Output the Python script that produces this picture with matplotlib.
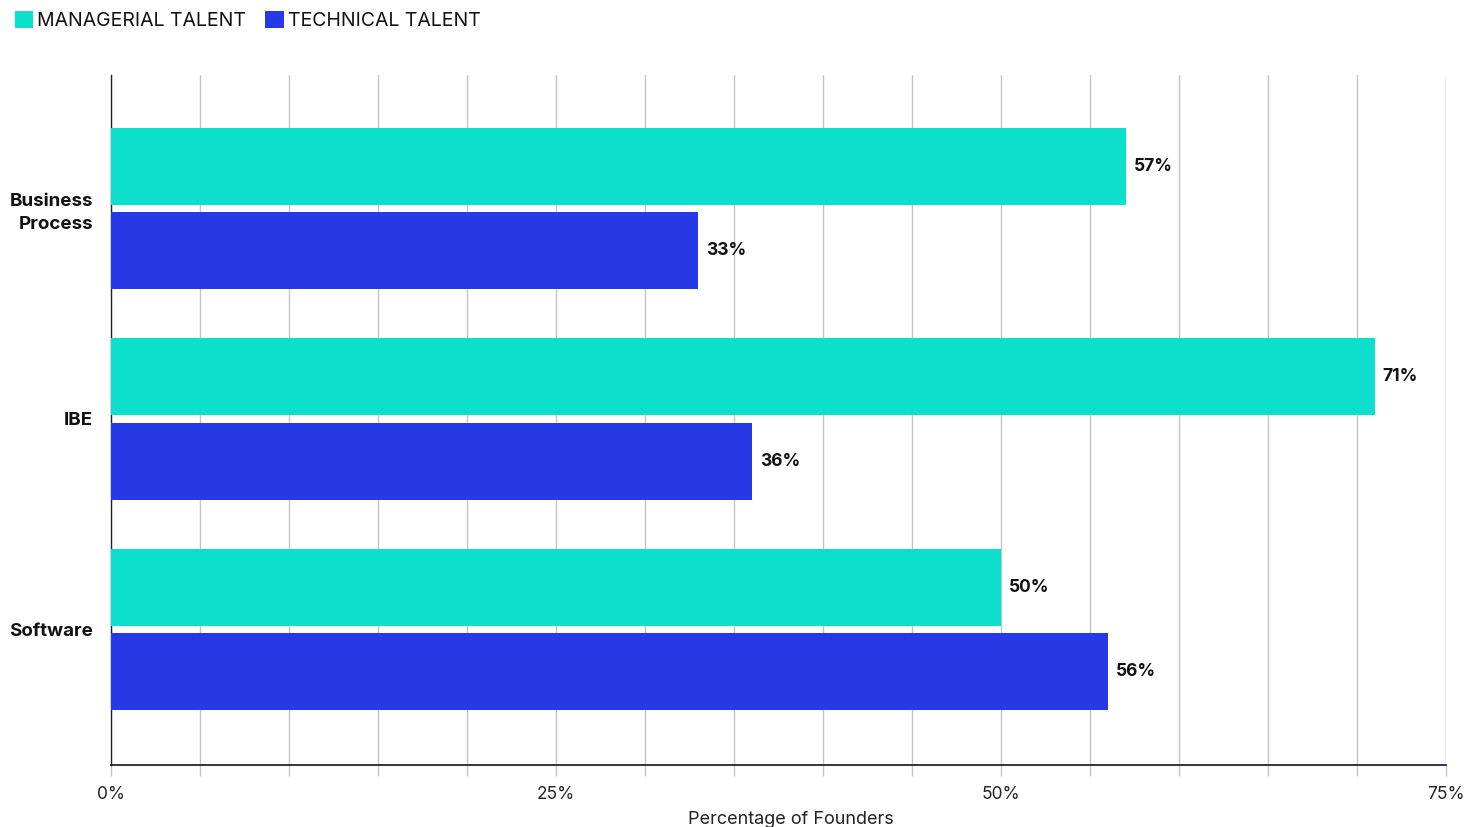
import matplotlib
matplotlib.use("Agg")
import matplotlib.pyplot as plt
from matplotlib.patches import Patch
from matplotlib.ticker import MultipleLocator, FixedLocator
import numpy as np

plt.rcParams['font.family'] = ['Inter', 'DejaVu Sans']

categories = ["Business\nProcess", "IBE", "Software"]
series_names = ["MANAGERIAL TALENT", "TECHNICAL TALENT"]
managerial = [57, 71, 50]
technical = [33, 36, 56]
colors = ["#0CE0CC", "#2639E6"]
x_ticks = [0, 25, 50, 75]

fig = plt.figure(figsize=(14.82, 8.27), dpi=100)
ax = fig.add_axes([0.0749, 0.075, 0.9008, 0.8343])

y = np.arange(len(categories))
h = 0.366
off = 0.2
bars_m = ax.barh(y - off, managerial, height=h, color=colors[0], zorder=3)
bars_t = ax.barh(y + off, technical, height=h, color=colors[1], zorder=3)

for bars, vals in ((bars_m, managerial), (bars_t, technical)):
    for b, v in zip(bars, vals):
        ax.text(v + 0.45, b.get_y() + b.get_height() / 2, f"{v}%",
                va="center", ha="left", fontsize=12.5, fontweight="bold",
                color="#111111")

ax.set_xlim(0, 75)
ax.set_ylim(2.644, -0.634)
ax.set_yticks(y)
ax.set_yticklabels(categories, fontsize=13.5, fontweight="bold", color="#111111",
                   linespacing=1.45)
ax.tick_params(axis="y", length=0, pad=13)

ax.xaxis.set_major_locator(FixedLocator(x_ticks))
ax.xaxis.set_minor_locator(MultipleLocator(5))
ax.set_xticklabels([f"{t}%" for t in x_ticks], fontsize=12.5, color="#222222")
ax.tick_params(axis="x", which="both", length=8, width=1, color="#c4c4c4", pad=7)
ax.grid(axis="x", which="both", color="#c4c4c4", linewidth=1, zorder=0)

for s in ("top", "right"):
    ax.spines[s].set_visible(False)
ax.spines["left"].set_color("#222222")
ax.spines["bottom"].set_color("#111133")
ax.spines["left"].set_linewidth(1.0)
ax.spines["bottom"].set_linewidth(1.2)

ax.set_xlabel("Percentage of Founders", fontsize=13, color="#222222")
ax.xaxis.set_label_coords(0.509, -0.066)

handles = [Patch(facecolor=c, edgecolor="none") for c in colors]
fig.legend(handles, series_names, loc="upper left", bbox_to_anchor=(-0.002, 1.008),
           ncol=2, frameon=False, fontsize=14, handlelength=0.95, handleheight=0.95,
           handletextpad=0.2, columnspacing=1.0, labelcolor="#111111")

fig.savefig("out.png", dpi=100)
